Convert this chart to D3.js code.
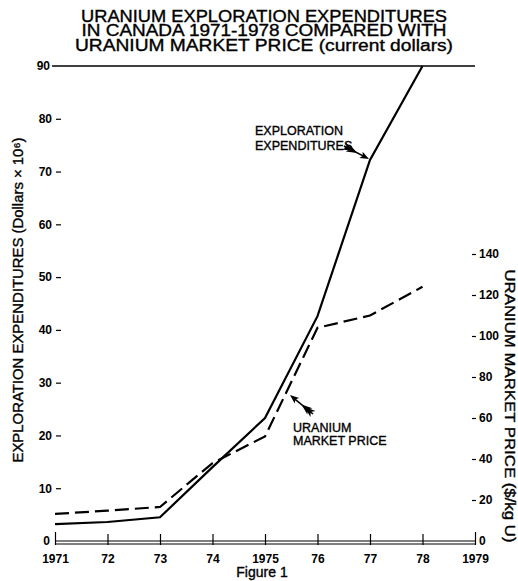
<!DOCTYPE html>
<html>
<head>
<meta charset="utf-8">
<script src="https://cdn.jsdelivr.net/npm/d3@7"></script>
<style>
  body { margin: 0; background: #fff; }
  svg text { font-family: "Liberation Sans", Arial, Helvetica, sans-serif; fill: #000; }
  .heavy { stroke: #000; stroke-width: 0.35px; }
</style>
</head>
<body>
<div id="chart"></div>
<script>
// data
var years = [1971, 1972, 1973, 1974, 1975, 1976, 1977, 1978];
var expenditures = [3.2, 3.6, 4.5, 14, 23.3, 42.6, 72.2, 90];   // $ x 10^6
var prices = [13.2, 14.8, 16.6, 38, 51, 104, 110, 124];           // $/kg U
var xTicks = [1971, 1972, 1973, 1974, 1975, 1976, 1977, 1978, 1979];
var xTickLabels = ["1971", "72", "73", "74", "1975", "76", "77", "78", "1979"];
var leftTicks = [0, 10, 20, 30, 40, 50, 60, 70, 80, 90];
var rightTicks = [0, 20, 40, 60, 80, 100, 120, 140];
var titleLines = ["URANIUM EXPLORATION EXPENDITURES",
                  "IN CANADA 1971-1978 COMPARED WITH",
                  "URANIUM MARKET PRICE  (current dollars)"];

var width = 518, height = 581;

var svg = d3.select("#chart")
    .append("svg")
    .attr("width", width)
    .attr("height", height);

// scales
var x = d3.scaleLinear().domain([1971, 1979]).range([55, 475]);
var yL = d3.scaleLinear().domain([0, 90]).range([541, 66]);
var yR = d3.scaleLinear().domain([0, 140]).range([541, 254]);

// title
var title = svg.append("g");
var titleW = [366, 365, 378];
titleLines.forEach(function(t, i) {
    title.append("text")
        .attr("class", "heavy")
        .attr("x", 264)
        .attr("y", 22 + i * 14.3)
        .attr("text-anchor", "middle")
        .attr("textLength", titleW[i])
        .attr("lengthAdjust", "spacingAndGlyphs")
        .style("font-size", "16px")
        .text(t);
});

// top line at 90
svg.append("line")
    .attr("x1", 52).attr("x2", x(1979))
    .attr("y1", yL(90)).attr("y2", yL(90))
    .attr("stroke", "#000").attr("stroke-width", 1.5);

// bottom axis (double line)
[0, 3].forEach(function(off) {
    svg.append("line")
        .attr("x1", x(1971)).attr("x2", x(1979))
        .attr("y1", yL(0) + off).attr("y2", yL(0) + off)
        .attr("stroke", "#000").attr("stroke-width", 1.2);
});
var xAxis = d3.axisBottom(x)
    .tickValues(xTicks)
    .tickSize(0)
    .tickPadding(10)
    .tickFormat(function(d, i) { return xTickLabels[i]; });
var gx = svg.append("g")
    .attr("transform", "translate(0," + (yL(0) + 3) + ")")
    .call(xAxis);
gx.select(".domain").remove();
gx.selectAll(".tick line").remove();
gx.selectAll(".tick").append("line")
    .attr("y1", function(d) { return (d == 1971 || d == 1979) ? -12 : -10; })
    .attr("y2", 1)
    .attr("stroke", "#000").attr("stroke-width", 1.2);
gx.selectAll(".tick text")
    .style("font-size", "12px")
    .style("font-weight", "bold");

// left axis
var gl = svg.append("g")
    .attr("transform", "translate(61,0)")
    .call(d3.axisLeft(yL).tickValues(leftTicks).tickSize(5).tickPadding(4));
gl.select(".domain").remove();
gl.selectAll(".tick line")
    .attr("stroke", function(d) { return (d == 0 || d == 90) ? "none" : "#000"; })
    .attr("stroke-width", 1.2);
gl.selectAll(".tick text")
    .attr("x", function(d) { return (d == 0 || d == 90) ? -11 : -9; })
    .style("font-size", "12px")
    .style("font-weight", "bold");

// right axis
var gr = svg.append("g")
    .attr("transform", "translate(472,0)")
    .call(d3.axisRight(yR).tickValues(rightTicks).tickSize(4).tickPadding(3));
gr.select(".domain").remove();
gr.selectAll(".tick line")
    .attr("stroke", function(d) { return d == 0 ? "none" : "#000"; })
    .attr("stroke-width", 1.2);
gr.selectAll(".tick text")
    .style("font-size", "12px")
    .style("font-weight", "bold");

// axis titles
svg.append("text")
    .attr("class", "heavy")
    .attr("transform", "translate(23,300) rotate(-90)")
    .attr("text-anchor", "middle")
    .attr("textLength", 325)
    .attr("lengthAdjust", "spacingAndGlyphs")
    .style("font-size", "14px")
    .text("EXPLORATION EXPENDITURES (Dollars \u00d7 10\u2076)");

svg.append("text")
    .attr("class", "heavy")
    .attr("transform", "translate(505,406) rotate(90)")
    .attr("text-anchor", "middle")
    .attr("textLength", 273)
    .attr("lengthAdjust", "spacingAndGlyphs")
    .style("font-size", "14px")
    .text("URANIUM MARKET PRICE  ($/kg U)");

// lines
var lineL = d3.line()
    .x(function(d, i) { return x(years[i]); })
    .y(function(d) { return yL(d); });
var lineR = d3.line()
    .x(function(d, i) { return x(years[i]); })
    .y(function(d) { return yR(d); });

svg.append("path")
    .datum(prices)
    .attr("d", lineR)
    .attr("fill", "none")
    .attr("stroke", "#000")
    .attr("stroke-width", 2.2)
    .attr("stroke-dasharray", "14,6");

svg.append("path")
    .datum(expenditures)
    .attr("d", lineL)
    .attr("fill", "none")
    .attr("stroke", "#000")
    .attr("stroke-width", 2.2);

// annotation arrows
function arrow(x1, y1, x2, y2) {
    var ang = Math.atan2(y2 - y1, x2 - x1) * 180 / Math.PI;
    var len = Math.sqrt((x2 - x1) * (x2 - x1) + (y2 - y1) * (y2 - y1));
    var g = svg.append("g")
        .attr("transform", "translate(" + x1 + "," + y1 + ") rotate(" + ang + ")");
    g.append("line")
        .attr("x1", 0).attr("x2", len - 4)
        .attr("y1", 0).attr("y2", 0)
        .attr("stroke", "#000").attr("stroke-width", 1.6);
    // head
    g.append("path")
        .attr("d", "M" + len + ",0 L" + (len - 9) + ",-3.5 L" + (len - 7) + ",0 L" + (len - 9) + ",3.5 Z")
        .attr("fill", "#000");
    // tail feathers
    g.append("path")
        .attr("d", "M0,-4 L11,0 L0,4 L3,0 Z M4,-4 L15,0 L4,4 L7,0 Z")
        .attr("fill", "#000");
}

var ann = [
    { lines: ["EXPLORATION", "EXPENDITURES"], x: 255, y: 135, dy: 15 },
    { lines: ["URANIUM", "MARKET PRICE"], x: 293, y: 432, dy: 13 }
];
ann.forEach(function(a) {
    a.lines.forEach(function(t, i) {
        svg.append("text")
            .attr("class", "heavy")
            .attr("x", a.x).attr("y", a.y + i * a.dy)
            .style("font-size", "12.5px")
            .text(t);
    });
});
arrow(344, 146, 369, 159);
arrow(313, 414, 290, 395);

// figure caption
svg.append("text")
    .attr("class", "heavy")
    .attr("x", 262).attr("y", 577)
    .attr("text-anchor", "middle")
    .style("font-size", "14px")
    .text("Figure 1");
</script>
</body>
</html>
